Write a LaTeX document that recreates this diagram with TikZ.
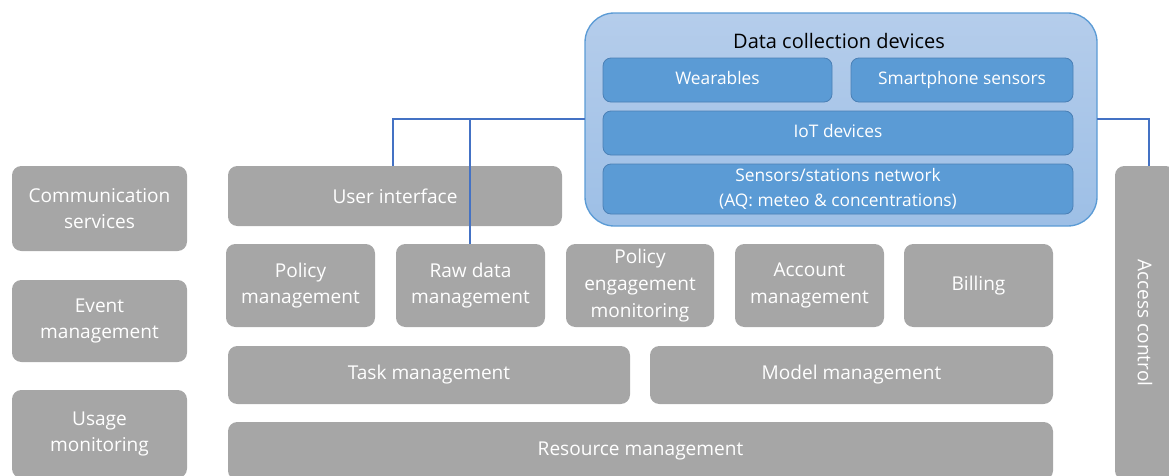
\documentclass[tikz,border=0pt]{standalone}
\usepackage{fontspec}
\setmainfont{Open Sans}
\definecolor{gfill}{HTML}{A6A6A6}
\definecolor{bfill}{HTML}{5B9BD5}
\definecolor{bdraw}{HTML}{4A7FB5}
\definecolor{otop}{HTML}{B5CDEB}
\definecolor{obot}{HTML}{9DBFE6}
\definecolor{odraw}{HTML}{5B9BD5}
\definecolor{conn}{HTML}{4472C4}
\newcommand\pbox[7]{\node[#1, minimum width={(#5-#3)*0.75pt}, minimum height={(#6-#4)*0.75pt}] (#2) at ({(#3+#5)/2},{(#4+#6)/2}) {#7};}
\tikzset{
  gbox/.style={rectangle, rounded corners=7pt, fill=gfill, text=white, inner sep=0pt, outer sep=0pt, align=center, font=\fontsize{14.3}{20}\selectfont},
  bbox/.style={rectangle, rounded corners=6pt, fill=bfill, draw=bdraw, line width=0.6pt, text=white, inner sep=0pt, outer sep=0pt, align=center, font=\fontsize{13}{18.5}\selectfont},
  obox/.style={rectangle, rounded corners=22pt, top color=otop, bottom color=obot, draw=odraw, line width=1pt, inner sep=0pt, outer sep=0pt},
  connline/.style={draw=conn, line width=1.5pt},
}
\begin{document}
\begin{tikzpicture}[x=0.75pt,y=-0.75pt]
\useasboundingbox (0,0) rectangle (1169,475);
% left column
\pbox{gbox}{comm}{12}{166}{187}{251}{Communication\\services}
\pbox{gbox}{event}{12}{280}{187}{362}{Event\\management}
\pbox{gbox}{usage}{12}{390}{187}{478}{Usage\\monitoring}
% main stack
\pbox{gbox}{ui}{228}{166}{562}{226}{User interface}
\pbox{gbox}{pol}{226}{244}{375}{327}{Policy\\management}
\pbox{gbox}{raw}{396}{244}{545}{327}{Raw data\\management}
\pbox{gbox}{peng}{566}{244}{714}{327}{Policy\\engagement\\monitoring}
\pbox{gbox}{acct}{735}{244}{884}{327}{Account\\management}
\pbox{gbox}{bill}{904}{244}{1053}{327}{Billing}
\pbox{gbox}{task}{228}{346}{630}{404}{Task management}
\pbox{gbox}{model}{650}{346}{1053}{404}{Model management}
\pbox{gbox}{res}{228}{422}{1053}{480}{Resource management}
% access control
\node[gbox, minimum width={(480-166)*0.75pt}, minimum height={(1175-1115)*0.75pt}, rotate=-90] (acc) at ({(1115+1175)/2},{(166+480)/2}) {Access control};
% data collection devices
\pbox{obox}{dcd}{585}{13}{1097}{226}{}
\node[font=\fontsize{15}{18}\selectfont, text=black, inner sep=0pt] (dcdt) at (839,41) {Data collection devices};
\pbox{bbox}{wear}{603}{58}{832}{102}{\strut Wearables}
\pbox{bbox}{smart}{851}{58}{1073}{102}{\strut Smartphone sensors}
\pbox{bbox}{iot}{603}{111}{1073}{155}{\strut IoT devices}
\pbox{bbox}{sens}{603}{164}{1073}{214}{Sensors/stations network\\(AQ: meteo \& concentrations)}
% connectors
\coordinate (j1) at (393,119);
\coordinate (j2) at (470,119);
\coordinate (j3) at (1149,119);
\draw[connline] (dcd.west |- j1) -- (j1) -- (j1 |- ui.north);
\draw[connline] (j2) -- (j2 |- raw.north);
\draw[connline] (dcd.east |- j3) -- (j3) -- (j3 |- acc.west);
\end{tikzpicture}
\end{document}
